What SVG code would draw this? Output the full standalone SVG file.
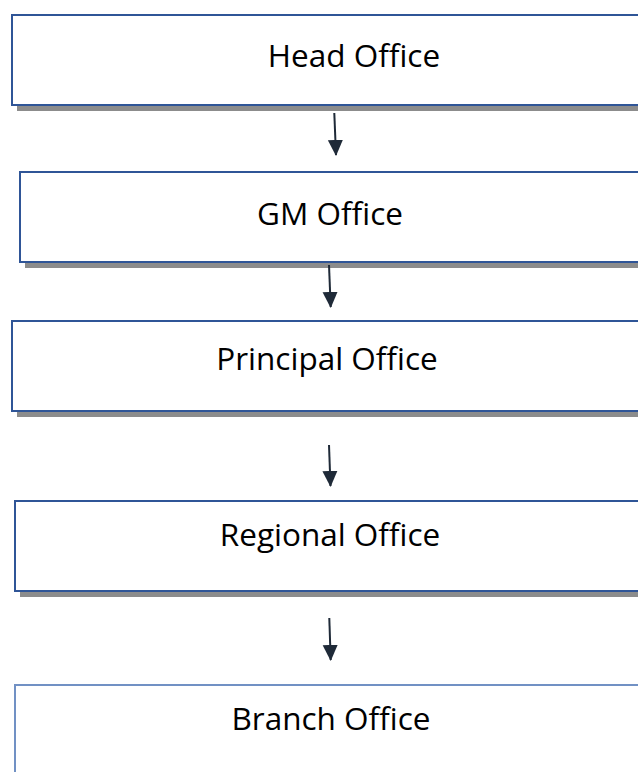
<svg xmlns="http://www.w3.org/2000/svg" width="638" height="772" viewBox="0 0 638 772">
<defs>
<style>
.shadow{fill:#8c8c8c;}
.box{fill:#ffffff;stroke:#2f5597;stroke-width:2;}
.box2{fill:#ffffff;stroke:#7191c4;stroke-width:2;}
.lbl{font-family:"Open Sans","Liberation Sans",sans-serif;font-size:31.5px;fill:#000000;text-anchor:middle;}
.conn{stroke:#1f2a38;stroke-width:2;fill:none;marker-end:url(#ah);}
</style>
<marker id="ah" markerWidth="16" markerHeight="17" viewBox="0 0 17 16" refX="16" refY="8" orient="auto" markerUnits="userSpaceOnUse">
<path d="M0,0 L17,8 L0,16 Z" fill="#1f2a38"/>
</marker>
</defs>
<rect width="638" height="772" fill="#ffffff"/>
<g id="head-office">
<rect class="shadow" x="17" y="20" width="640" height="91"/>
<rect class="box" x="12" y="15" width="640" height="90"/>
<text class="lbl" x="354" y="67">Head Office</text>
</g>
<g id="gm-office">
<rect class="shadow" x="25" y="177" width="640" height="91"/>
<rect class="box" x="20" y="172" width="640" height="90"/>
<text class="lbl" x="330" y="225">GM Office</text>
</g>
<g id="principal-office">
<rect class="shadow" x="17" y="326" width="640" height="91"/>
<rect class="box" x="12" y="321" width="640" height="90"/>
<text class="lbl" x="327" y="370">Principal Office</text>
</g>
<g id="regional-office">
<rect class="shadow" x="20" y="506" width="640" height="91"/>
<rect class="box" x="15" y="501" width="640" height="90"/>
<text class="lbl" x="330" y="546">Regional Office</text>
</g>
<g id="branch-office">
<rect class="box2" x="15" y="685" width="640" height="100"/>
<text class="lbl" x="331" y="730">Branch Office</text>
</g>
<g id="connectors">
<line class="conn" x1="334.3" y1="113" x2="336" y2="155"/>
<line class="conn" x1="329" y1="265" x2="330.7" y2="307"/>
<line class="conn" x1="329" y1="445" x2="330.5" y2="486"/>
<line class="conn" x1="329.3" y1="618" x2="330.7" y2="660"/>
</g>
</svg>
